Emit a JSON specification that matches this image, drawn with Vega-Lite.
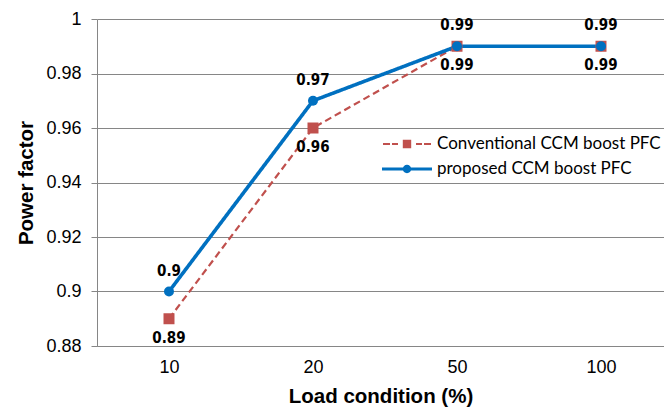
{
  "$schema": "https://vega.github.io/schema/vega-lite/v6.json",
  "width": 567,
  "height": 327,
  "autosize": "none",
  "padding": {"left": 97, "top": 19, "right": 0, "bottom": 63},
  "background": "white",
  "config": {"view": {"stroke": null}},
  "data": {
    "values": [
      {"load": "10", "series": "Conventional CCM boost PFC", "pf": 0.89},
      {"load": "20", "series": "Conventional CCM boost PFC", "pf": 0.96},
      {"load": "50", "series": "Conventional CCM boost PFC", "pf": 0.99},
      {"load": "100", "series": "Conventional CCM boost PFC", "pf": 0.99},
      {"load": "10", "series": "proposed CCM boost PFC", "pf": 0.9},
      {"load": "20", "series": "proposed CCM boost PFC", "pf": 0.97},
      {"load": "50", "series": "proposed CCM boost PFC", "pf": 0.99},
      {"load": "100", "series": "proposed CCM boost PFC", "pf": 0.99}
    ]
  },
  "encoding": {
    "x": {
      "field": "load", "type": "ordinal", "sort": ["10", "20", "50", "100"],
      "scale": {"type": "point", "padding": 0.46875, "align": 0.5333},
      "axis": {
        "title": "Load condition (%)", "labelAngle": 0, "ticks": false, "grid": false,
        "domainColor": "#868686", "labelFont": "Liberation Sans", "labelFontSize": 18,
        "labelColor": "#000000", "labelPadding": 12,
        "titleFont": "Liberation Sans", "titleFontSize": 20.5, "titleFontWeight": "bold",
        "titleColor": "#000000", "titlePadding": 10
      }
    },
    "y": {
      "field": "pf", "type": "quantitative",
      "scale": {"domain": [0.88, 1], "zero": false, "nice": false},
      "axis": {
        "title": "Power factor", "values": [0.88, 0.9, 0.92, 0.94, 0.96, 0.98, 1],
        "format": ".2~f", "grid": true, "gridColor": "#868686", "gridOpacity": 1,
        "domainColor": "#868686", "tickColor": "#868686", "tickSize": 6,
        "labelFont": "Liberation Sans", "labelFontSize": 18, "labelColor": "#000000",
        "labelPadding": 10,
        "titleFont": "Liberation Sans", "titleFontSize": 20.5, "titleFontWeight": "bold",
        "titleColor": "#000000", "titlePadding": 9
      }
    }
  },
  "layer": [
    {
      "mark": {"type": "line"},
      "encoding": {
        "color": {"field": "series", "type": "nominal",
          "scale": {"domain": ["Conventional CCM boost PFC", "proposed CCM boost PFC"], "range": ["#C0504D", "#0070C0"]},
          "legend": null},
        "strokeDash": {"field": "series", "type": "nominal",
          "scale": {"domain": ["Conventional CCM boost PFC", "proposed CCM boost PFC"], "range": [[7, 4], [1, 0]]},
          "legend": null},
        "strokeWidth": {"field": "series", "type": "nominal",
          "scale": {"domain": ["Conventional CCM boost PFC", "proposed CCM boost PFC"], "range": [2.2, 3.6]},
          "legend": null}
      }
    },
    {
      "mark": {"type": "point", "filled": true, "opacity": 1, "strokeWidth": 0},
      "encoding": {
        "color": {"field": "series", "type": "nominal",
          "scale": {"domain": ["Conventional CCM boost PFC", "proposed CCM boost PFC"], "range": ["#C0504D", "#0070C0"]},
          "legend": null},
        "shape": {"field": "series", "type": "nominal",
          "scale": {"domain": ["Conventional CCM boost PFC", "proposed CCM boost PFC"], "range": ["square", "circle"]},
          "legend": null},
        "size": {"field": "series", "type": "nominal",
          "scale": {"domain": ["Conventional CCM boost PFC", "proposed CCM boost PFC"], "range": [121, 100]},
          "legend": null}
      }
    },
    {
      "transform": [{"filter": "datum.series == 'Conventional CCM boost PFC'"}],
      "mark": {"type": "text", "dy": 19, "font": "DejaVu Sans Condensed", "fontWeight": "bold", "fontSize": 15, "color": "#000000"},
      "encoding": {"text": {"field": "pf", "type": "quantitative", "format": ".2~f"}}
    },
    {
      "transform": [{"filter": "datum.series == 'proposed CCM boost PFC'"}],
      "mark": {"type": "text", "dy": -21, "font": "DejaVu Sans Condensed", "fontWeight": "bold", "fontSize": 15, "color": "#000000"},
      "encoding": {"text": {"field": "pf", "type": "quantitative", "format": ".2~f"}}
    },
    {
      "mark": {"type": "point", "filled": true, "opacity": 0, "strokeWidth": 0},
      "encoding": {
        "color": {"field": "series", "type": "nominal",
          "scale": {"domain": ["Conventional CCM boost PFC", "proposed CCM boost PFC"], "range": ["#C0504D", "#0070C0"]},
          "legend": {"orient": "none", "legendX": 300, "legendY": 115, "title": null, "padding": 0,
            "symbolSize": 400, "labelOffset": 20, "rowPadding": 7, "labelFont": "Lato", "labelFontSize": 17,
            "labelColor": "#000000", "labelLimit": 400, "symbolStrokeWidth": 0,
            "encode": {"symbols": {"update": {"opacity": {"value": 1}, "fillOpacity": {"value": 1}}}}}},
        "shape": {"field": "series", "type": "nominal",
          "scale": {"domain": ["Conventional CCM boost PFC", "proposed CCM boost PFC"],
            "range": [
              "M-2.4,-0.1H-1.7V0.1H-2.4Z M-1.5,-0.1H-0.9V0.1H-1.5Z M-0.42,-0.42H0.42V0.42H-0.42Z M0.9,-0.1H1.5V0.1H0.9Z M1.7,-0.1H2.4V0.1H1.7Z",
              "M-2.5,-0.15H-0.3V0.15H-2.5Z M0.3,-0.15H2.5V0.15H0.3Z M-0.42,0A0.42,0.42 0 1,1 0.42,0A0.42,0.42 0 1,1 -0.42,0Z"
            ]},
          "legend": {"orient": "none", "legendX": 300, "legendY": 115, "title": null, "padding": 0,
            "symbolSize": 400, "labelOffset": 20, "rowPadding": 7, "labelFont": "Lato", "labelFontSize": 17,
            "labelColor": "#000000", "labelLimit": 400, "symbolStrokeWidth": 0,
            "encode": {"symbols": {"update": {"opacity": {"value": 1}, "fillOpacity": {"value": 1}}}}}}
      }
    }
  ],
  "resolve": {"scale": {"color": "independent", "shape": "independent"}}
}
